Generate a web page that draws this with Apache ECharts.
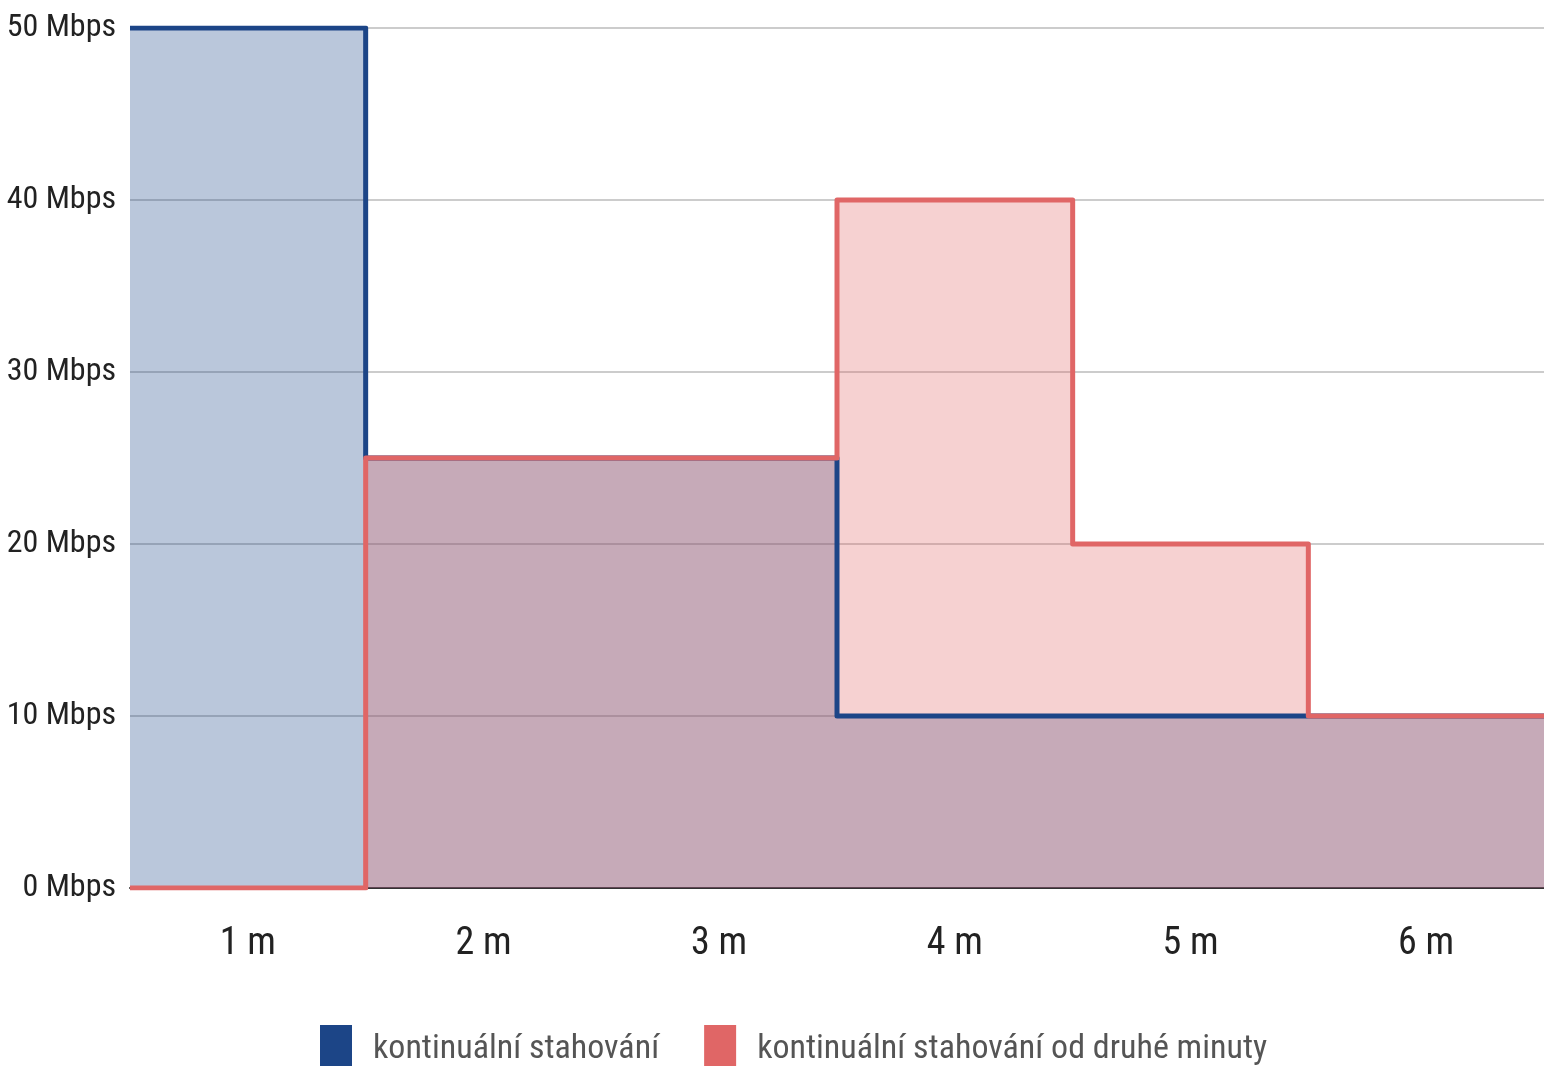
<!DOCTYPE html>
<html>
<head>
<meta charset="utf-8">
<script src="https://cdn.jsdelivr.net/npm/echarts@6/dist/echarts.min.js"></script>
<style>
    html, body { margin: 0; padding: 0; background: #fff; }
    #chart { width: 1544px; height: 1066px; }
</style>
</head>
<body>
<div id="chart"></div>
<script>
    // kategorie na ose x
    const minutes = ['1 m', '2 m', '3 m', '4 m', '5 m', '6 m'];
    // rychlost v Mbps za jednotlivé minuty
    const continuous = [50, 25, 25, 10, 10, 10];
    const fromSecondMinute = [0, 25, 25, 40, 20, 10];
    const seriesNames = ['kontinuální stahování', 'kontinuální stahování od druhé minuty'];

    const font = "'Liberation Sans Narrow', 'Roboto Condensed', Roboto, sans-serif";

    // schody přes celou šířku kategorie: body na hranicích 0..6
    function toSteps(values) {
        const pts = values.map((v, i) => [i, v]);
        pts.push([values.length, values[values.length - 1]]);
        return pts;
    }

    const chart = echarts.init(document.getElementById('chart'));

    const option = {
        animation: false,
        textStyle: { fontFamily: font },
        grid: { left: 130, right: 0, top: 28, bottom: 178, outerBoundsMode: 'none', containLabel: false },
        legend: {
            top: 1020,
            left: 315,
            itemWidth: 32,
            itemHeight: 48,
            itemGap: 45,
            icon: 'rect',
            textStyle: { fontSize: 34, color: '#555', fontFamily: font, padding: [0, 0, 0, 16] },
            data: seriesNames
        },
        xAxis: [
            {
                type: 'category',
                data: minutes,
                boundaryGap: true,
                axisLine: { lineStyle: { color: '#333', width: 2 } },
                axisTick: { show: false },
                axisLabel: { fontSize: 38, color: '#222', margin: 37, fontFamily: font }
            },
            {
                type: 'value',
                min: 0,
                max: minutes.length,
                show: false
            }
        ],
        yAxis: {
            type: 'value',
            min: 0,
            max: 50,
            interval: 10,
            axisLine: { show: false },
            axisTick: { show: false },
            splitLine: { lineStyle: { color: '#cccccc', width: 2 } },
            axisLabel: {
                fontSize: 32,
                color: '#222',
                margin: 14,
                fontFamily: font,
                formatter: '{value} Mbps'
            }
        },
        series: [
            {
                name: seriesNames[0],
                type: 'line',
                xAxisIndex: 1,
                step: 'end',
                symbol: 'none',
                data: toSteps(continuous),
                itemStyle: { color: '#1c4587' },
                lineStyle: { color: '#1c4587', width: 5, join: 'round' },
                areaStyle: { color: '#1c4587', opacity: 0.3 }
            },
            {
                name: seriesNames[1],
                type: 'line',
                xAxisIndex: 1,
                step: 'end',
                symbol: 'none',
                data: toSteps(fromSecondMinute),
                itemStyle: { color: '#e06666' },
                lineStyle: { color: '#e06666', width: 5, join: 'round' },
                areaStyle: { color: '#e06666', opacity: 0.3 }
            }
        ]
    };

    chart.setOption(option);
</script>
</body>
</html>
